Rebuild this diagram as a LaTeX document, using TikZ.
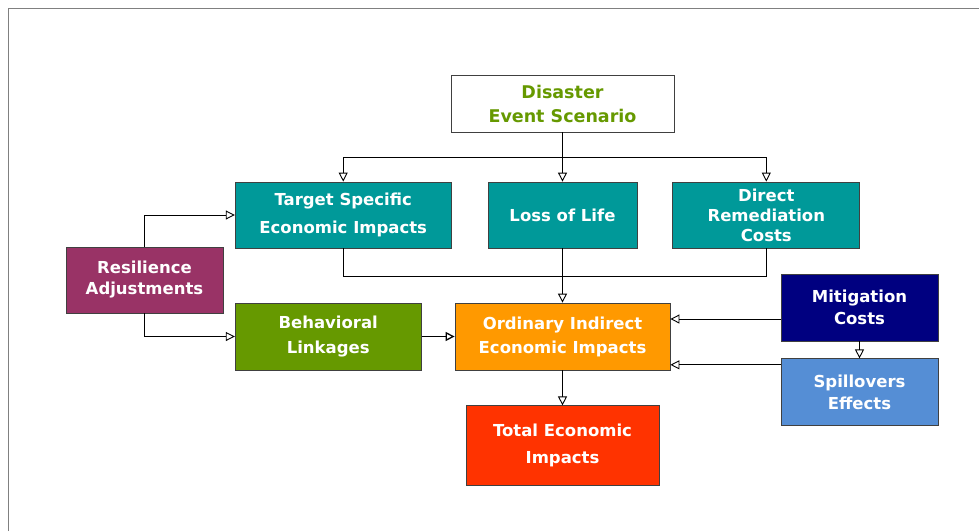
\documentclass[tikz,border=0pt]{standalone}
\usepackage{fontspec}
\setmainfont{DejaVu Sans}
\usetikzlibrary{arrows.meta, calc, positioning}

\definecolor{tealbox}{HTML}{009999}
\definecolor{plumbox}{HTML}{993366}
\definecolor{olivebox}{HTML}{669900}
\definecolor{orangebox}{HTML}{FF9900}
\definecolor{navybox}{HTML}{000080}
\definecolor{skybox}{HTML}{558ED5}
\definecolor{redbox}{HTML}{FF3300}

\begin{document}
\begin{tikzpicture}[x=1pt, y=-1pt, node distance=35pt,
            box/.style={draw=black!75, line width=0.8pt, align=center, text=white,
                font=\bfseries\fontsize{16.5}{22}\selectfont},
            arr/.style={-{Triangle[open, length=9pt, width=9pt]}, line width=0.9pt}]
            % Page size and the grey frame
            \useasboundingbox (0,0) rectangle (979,531);
            \draw[black!50, line width=1pt] (8,531) -- (8,8) -- (979,8);

            % Scenario node and the three direct impacts below it
            \node (disaster) [box, fill=white, text=olivebox, minimum width=223pt, minimum height=57pt,
                font=\bfseries\fontsize{17.5}{24}\selectfont] at (562.5,103.5) {Disaster\\ Event Scenario};
            \node (life) [box, fill=tealbox, minimum width=149pt, minimum height=66pt] at (562.5,215) {Loss of Life};
            \node (target) [box, fill=tealbox, minimum width=216pt, minimum height=66pt,
                font=\bfseries\fontsize{16.5}{28}\selectfont, left=36pt of life] {Target Specific\\ Economic Impacts};
            \node (remedy) [box, fill=tealbox, minimum width=187pt, minimum height=66pt,
                font=\bfseries\fontsize{16.5}{20}\selectfont, right=35pt of life] {Direct\\ Remediation\\ Costs};

            % Indirect impacts and the nodes feeding them
            \node (ordinary) [box, fill=orangebox, minimum width=215pt, minimum height=67pt, font=\bfseries\fontsize{16.5}{24}\selectfont] at (562.5,336.5) {Ordinary Indirect\\ Economic Impacts};
            \node (behav) [box, fill=olivebox, minimum width=186pt, minimum height=67pt,
                font=\bfseries\fontsize{16.5}{25}\selectfont, left=33pt of ordinary] {Behavioral\\ Linkages};
            \node (resil) [box, fill=plumbox, minimum width=157pt, minimum height=66pt,
                font=\bfseries\fontsize{16.5}{21}\selectfont] at (144.5,280) {Resilience\\ Adjustments};
            \node (mitig) [box, fill=navybox, minimum width=157pt, minimum height=67pt] at (859.5,307.5) {Mitigation\\ Costs};
            \node (spill) [box, fill=skybox, minimum width=157pt, minimum height=67pt, below=17pt of mitig] {Spillovers\\ Effects};
            \node (total) [box, fill=redbox, minimum width=193pt, minimum height=80pt,
                font=\bfseries\fontsize{16.5}{27}\selectfont, below=35pt of ordinary] {Total Economic\\ Impacts};

            % Scenario fans out to the direct impacts
            \draw[arr] (disaster) -- (life);
            \draw[arr] (disaster.south) -- ++(0,25) -| (target.north);
            \draw[arr] (disaster.south) -- ++(0,25) -| (remedy.north);

            % Direct impacts gather into the indirect impacts
            \draw[line width=0.9pt] (target.south) -- ++(0,28) -| (remedy.south);
            \draw[arr] (life) -- (ordinary);
            \draw[arr] (resil.north) |- (target.west);
            \draw[arr] (resil.south) |- (behav.west);
            \draw[arr, line width=1.3pt] (behav) -- (ordinary);
            \draw[arr] ($(mitig.west)+(0,11.5)$) -- ($(mitig.west -| ordinary.east)+(0,11.5)$);
            \draw[arr] ($(spill.west)+(0,-27.5)$) -- ($(spill.west -| ordinary.east)+(0,-27.5)$);
            \draw[arr] (mitig) -- (spill);
            \draw[arr] (ordinary) -- (total);
        \end{tikzpicture}
\end{document}
